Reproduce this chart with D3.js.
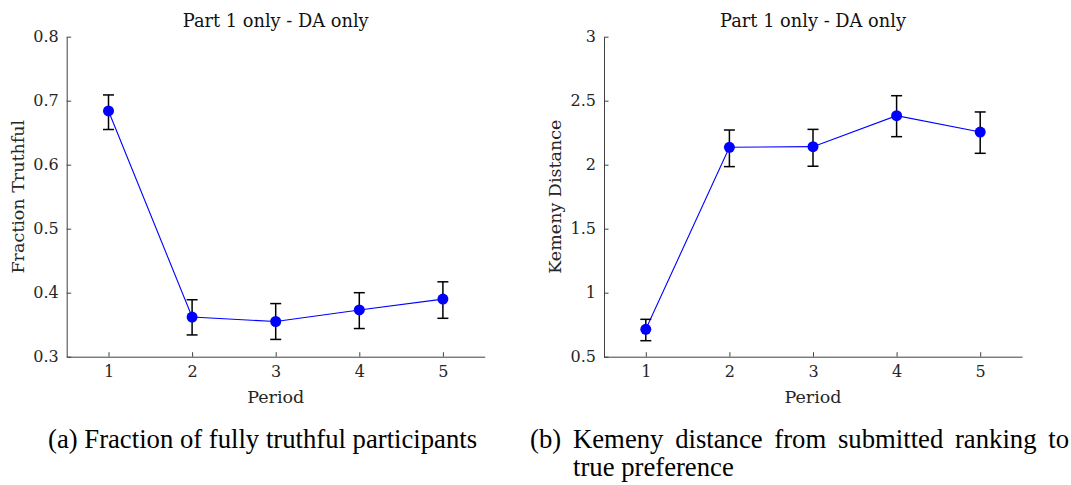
<!DOCTYPE html>
<html>
<head>
<meta charset="utf-8">
<script src="https://cdn.jsdelivr.net/npm/d3@7"></script>
<style>
  body { margin: 0; background: #fff; }
  svg { display: block; }
</style>
</head>
<body>
<script>
var canvasWidth = 1071;
var canvasHeight = 485;

// data
var periods = [1, 2, 3, 4, 5];
var xTicks = ['1', '2', '3', '4', '5'];

var truthfulMean = [0.684, 0.362, 0.355, 0.373, 0.390];
var truthfulLow = [0.655, 0.334, 0.327, 0.344, 0.360];
var truthfulHigh = [0.709, 0.389, 0.383, 0.400, 0.417];
var truthfulTicks = [0.3, 0.4, 0.5, 0.6, 0.7, 0.8];
var truthfulTickLabels = ['0.3', '0.4', '0.5', '0.6', '0.7', '0.8'];

var kemenyMean = [0.714, 2.136, 2.141, 2.383, 2.255];
var kemenyLow = [0.625, 1.985, 1.988, 2.219, 2.089];
var kemenyHigh = [0.792, 2.271, 2.276, 2.539, 2.412];
var kemenyTicks = [0.5, 1, 1.5, 2, 2.5, 3];
var kemenyTickLabels = ['0.5', '1', '1.5', '2', '2.5', '3'];

var titles = ['Part 1 only - DA only', 'Part 1 only - DA only'];
var yLabels = ['Fraction Truthful', 'Kemeny Distance'];
var xLabel = 'Period';

var axisFont = 'DejaVu Serif';
var textColor = '#262626';

var svg = d3
    .select('body')
    .append('svg')
    .attr('width', canvasWidth)
    .attr('height', canvasHeight);

var plotTop = 36.7;
var plotBottom = 356.7;
var plotWidth = 418;

function drawPanel(opt) {
    var xScale = d3.scaleLinear().domain([0.5, 5.5]).range([opt.left, opt.left + plotWidth]);
    var yScale = d3.scaleLinear().domain(opt.domain).range([plotBottom, plotTop]);

    var g = svg.append('g');

    // x axis (ticks inward)
    var xAxis = g
        .append('g')
        .attr('transform', 'translate(0,' + plotBottom + ')')
        .call(
            d3
                .axisBottom(xScale)
                .tickValues(periods)
                .tickFormat(function (d, i) { return xTicks[i]; })
                .tickSizeInner(-4.5)
                .tickSizeOuter(0)
                .tickPadding(9),
        );

    // y axis (ticks inward)
    var yAxis = g
        .append('g')
        .attr('transform', 'translate(' + opt.left + ',0)')
        .call(
            d3
                .axisLeft(yScale)
                .tickValues(opt.ticks)
                .tickFormat(function (d, i) { return opt.tickLabels[i]; })
                .tickSizeInner(-4.5)
                .tickSizeOuter(0)
                .tickPadding(8),
        );

    [xAxis, yAxis].forEach(function (a) {
        a.select('.domain').attr('stroke', '#404040').attr('stroke-width', 1);
        a.selectAll('.tick line').attr('stroke', '#404040').attr('stroke-width', 1);
        a.selectAll('.tick text')
            .attr('font-family', axisFont)
            .attr('font-size', '16px')
            .attr('fill', textColor);
    });

    // title
    g.append('text')
        .attr('x', opt.left + plotWidth / 2)
        .attr('y', 26.5)
        .attr('text-anchor', 'middle')
        .attr('font-family', axisFont)
        .attr('font-size', '17.8px')
        .attr('fill', '#111')
        .text(opt.title);

    // axis labels
    g.append('text')
        .attr('x', opt.left + plotWidth / 2)
        .attr('y', 403)
        .attr('text-anchor', 'middle')
        .attr('font-family', axisFont)
        .attr('font-size', '17.5px')
        .attr('fill', textColor)
        .text(xLabel);

    g.append('text')
        .attr('transform', 'translate(' + opt.yLabelX + ',' + (plotTop + plotBottom) / 2 + ') rotate(-90)')
        .attr('text-anchor', 'middle')
        .attr('font-family', axisFont)
        .attr('font-size', '17.5px')
        .attr('fill', textColor)
        .text(opt.yLabel);

    // connecting line
    g.append('path')
        .datum(periods)
        .attr('fill', 'none')
        .attr('stroke', '#0000ff')
        .attr('stroke-width', 1.1)
        .attr(
            'd',
            d3
                .line()
                .x(function (d) { return xScale(d); })
                .y(function (d, i) { return yScale(opt.mean[i]); }),
        );

    // error bars
    var bars = g.selectAll('.err').data(periods).enter().append('g').attr('class', 'err');
    bars.append('line')
        .attr('x1', function (d) { return xScale(d); })
        .attr('x2', function (d) { return xScale(d); })
        .attr('y1', function (d, i) { return yScale(opt.low[i]); })
        .attr('y2', function (d, i) { return yScale(opt.high[i]); })
        .attr('stroke', '#000')
        .attr('stroke-width', 1.5);
    bars.append('line')
        .attr('x1', function (d) { return xScale(d) - 5.5; })
        .attr('x2', function (d) { return xScale(d) + 5.5; })
        .attr('y1', function (d, i) { return yScale(opt.low[i]); })
        .attr('y2', function (d, i) { return yScale(opt.low[i]); })
        .attr('stroke', '#000')
        .attr('stroke-width', 1.5);
    bars.append('line')
        .attr('x1', function (d) { return xScale(d) - 5.5; })
        .attr('x2', function (d) { return xScale(d) + 5.5; })
        .attr('y1', function (d, i) { return yScale(opt.high[i]); })
        .attr('y2', function (d, i) { return yScale(opt.high[i]); })
        .attr('stroke', '#000')
        .attr('stroke-width', 1.5);

    // markers
    g.selectAll('circle')
        .data(periods)
        .enter()
        .append('circle')
        .attr('cx', function (d) { return xScale(d); })
        .attr('cy', function (d, i) { return yScale(opt.mean[i]); })
        .attr('r', 5.5)
        .attr('fill', '#0000ff');
}

drawPanel({
    left: 66.7,
    domain: [0.3, 0.8],
    ticks: truthfulTicks,
    tickLabels: truthfulTickLabels,
    mean: truthfulMean,
    low: truthfulLow,
    high: truthfulHigh,
    title: titles[0],
    yLabel: yLabels[0],
    yLabelX: 24,
});

drawPanel({
    left: 604,
    domain: [0.5, 3],
    ticks: kemenyTicks,
    tickLabels: kemenyTickLabels,
    mean: kemenyMean,
    low: kemenyLow,
    high: kemenyHigh,
    title: titles[1],
    yLabel: yLabels[1],
    yLabelX: 561,
});

// sub-captions (Times-like)
var capFont = 'Liberation Serif';
var capSize = '26.7px';

svg.append('text')
    .attr('x', 48)
    .attr('y', 448)
    .attr('font-family', capFont)
    .attr('font-size', capSize)
    .attr('fill', '#000')
    .text('(a) Fraction of fully truthful participants');

svg.append('text')
    .attr('x', 530)
    .attr('y', 448)
    .attr('font-family', capFont)
    .attr('font-size', capSize)
    .attr('fill', '#000')
    .text('(b)');

// first line of (b) is justified between 573 and 1069
var words = ['Kemeny', 'distance', 'from', 'submitted', 'ranking', 'to'];
var wordNodes = svg
    .selectAll('.capword')
    .data(words)
    .enter()
    .append('text')
    .attr('class', 'capword')
    .attr('y', 448)
    .attr('font-family', capFont)
    .attr('font-size', capSize)
    .attr('fill', '#000')
    .text(function (d) { return d; });

var widths = [];
wordNodes.each(function () { widths.push(this.getComputedTextLength()); });
var lineStart = 573;
var lineEnd = 1069;
var gap = (lineEnd - lineStart - d3.sum(widths)) / (words.length - 1);
var pos = lineStart;
wordNodes.attr('x', function (d, i) {
    var x = pos;
    pos += widths[i] + gap;
    return x;
});

svg.append('text')
    .attr('x', 573)
    .attr('y', 476)
    .attr('font-family', capFont)
    .attr('font-size', capSize)
    .attr('fill', '#000')
    .text('true preference');
</script>
</body>
</html>
